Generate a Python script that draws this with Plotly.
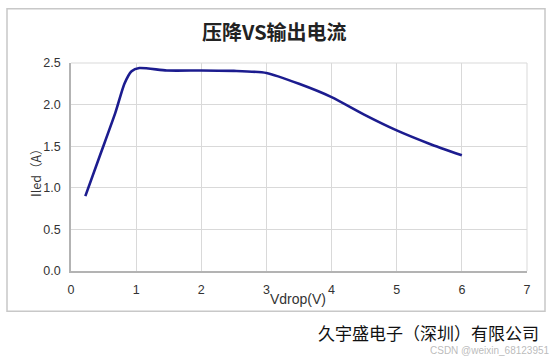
import plotly.graph_objects as go

vdrop = [0.22, 0.45, 0.68, 0.82, 0.93, 1.05, 1.47, 2.0, 2.5, 3.0, 3.5, 4.0, 4.5, 5.0, 5.5, 6.0]
iled = [0.90, 1.40, 1.90, 2.25, 2.40, 2.44, 2.41, 2.41, 2.405, 2.38, 2.25, 2.09, 1.88, 1.69, 1.53, 1.39]

title_text = "压降VS输出电流"
x_title = "Vdrop(V)"
y_title = "Iled（A）"
footer = "久宇盛电子（深圳）有限公司"
watermark = "CSDN @weixin_68123951"

W, H = 553, 356
L, R, T, B = 71, 26, 62.5, 84.5
pw = W - L - R
ph = H - T - B

def px(x):
    return (x - L) / pw

def py(y):
    return (H - B - y) / ph

fig = go.Figure()
fig.add_trace(go.Scatter(
    x=vdrop, y=iled, mode="lines",
    line=dict(color="#1c1c8f", width=2.6, shape="spline", smoothing=0.6),
    hoverinfo="skip", showlegend=False,
))

font_main = "Noto Sans CJK SC, Liberation Sans, Arial, sans-serif"
font_lat = "Liberation Sans, Arial, sans-serif"
fig.update_layout(
    width=W, height=H,
    margin=dict(l=L, r=R, t=T, b=B),
    paper_bgcolor="white", plot_bgcolor="white",
    font=dict(family=font_main, color="#333333", size=12),
    xaxis=dict(range=[0, 7], dtick=1, tick0=0, showgrid=True, gridcolor="#d9d9d9", gridwidth=1,
               zeroline=False, showline=True, linecolor="#b3b3b3", linewidth=1.5,
               ticks="outside", ticklen=6, tickcolor="rgba(0,0,0,0)",
               tickfont=dict(size=12.5, color="#333333", family=font_lat), fixedrange=True),
    yaxis=dict(range=[0, 2.5], dtick=0.5, tick0=0, tickformat=".1f", showgrid=True,
               gridcolor="#d9d9d9", gridwidth=1, zeroline=False, showline=True,
               linecolor="#b3b3b3", linewidth=1.5, ticks="outside", ticklen=6,
               tickcolor="rgba(0,0,0,0)",
               tickfont=dict(size=12.5, color="#333333", family=font_lat),
               fixedrange=True),
    shapes=[
        dict(type="rect", xref="paper", yref="paper",
             x0=px(7), x1=px(545), y0=py(8), y1=py(312),
             line=dict(color="#c8c8c8", width=1.5), fillcolor="rgba(0,0,0,0)", layer="below"),
        dict(type="line", xref="paper", yref="paper", x0=1, x1=1, y0=0, y1=1,
             line=dict(color="#d9d9d9", width=1)),
        dict(type="line", xref="paper", yref="paper", x0=0, x1=1, y0=1, y1=1,
             line=dict(color="#d9d9d9", width=1)),
    ],
    annotations=[
        dict(text="<b>" + title_text + "</b>", xref="paper", yref="paper",
             x=px(274.5), y=py(31), xanchor="center", yanchor="middle", showarrow=False,
             font=dict(size=20, color="#222222", family=font_main)),
        dict(text=x_title, xref="paper", yref="paper", x=px(298), y=py(300),
             xanchor="center", yanchor="middle", showarrow=False,
             font=dict(size=14, color="#333333", family=font_lat)),
        dict(text=y_title, xref="paper", yref="paper", x=px(36), y=py(170),
             xanchor="center", yanchor="middle", showarrow=False, textangle=-90,
             font=dict(size=12.5, color="#333333", family=font_main)),
        dict(text=footer, xref="paper", yref="paper", x=px(541), y=py(333),
             xanchor="right", yanchor="middle", showarrow=False,
             font=dict(size=17, color="#111111", family=font_main)),
        dict(text=watermark, xref="paper", yref="paper", x=px(552), y=py(351),
             xanchor="right", yanchor="middle", showarrow=False,
             font=dict(size=10, color="rgba(170,170,170,0.8)", family=font_lat)),
    ],
)

fig.write_html("out.html")
